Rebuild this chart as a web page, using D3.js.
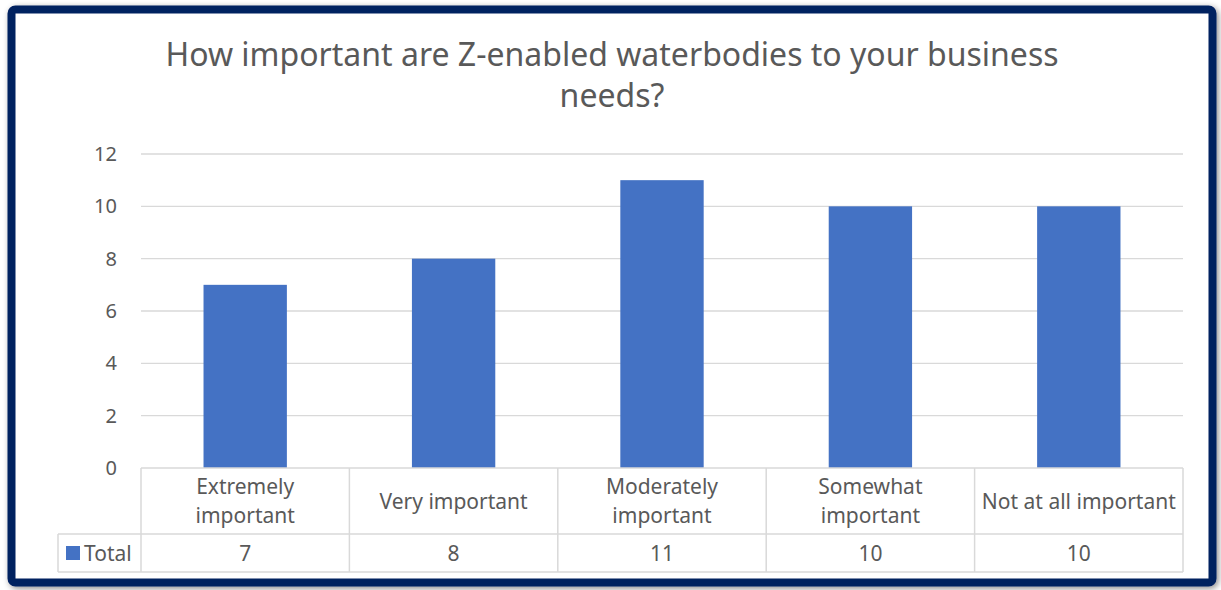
<!DOCTYPE html>
<html>
<head>
<meta charset="utf-8">
<script src="https://d3js.org/d3.v7.min.js"></script>
<style>
  body { margin: 0; background: #fff; }
  text { font-family: "Noto Sans", sans-serif; fill: #595959; }
</style>
</head>
<body>
<svg id="chart" width="1221" height="590"></svg>
<script>
// chart values
var categories = ["Extremely important", "Very important", "Moderately important", "Somewhat important", "Not at all important"];
var labelLines = [["Extremely", "important"], ["Very important"], ["Moderately", "important"], ["Somewhat", "important"], ["Not at all important"]];
var totals = [7, 8, 11, 10, 10];
var yTicks = [0, 2, 4, 6, 8, 10, 12];
var seriesName = "Total";
var titleLines = ["How important are Z-enabled waterbodies to your business", "needs?"];

var svg = d3.select("#chart");

// shadow + frame
var defs = svg.append("defs");
var f = defs.append("filter").attr("id", "shadow").attr("x", "-5%").attr("y", "-5%").attr("width", "110%").attr("height", "110%");
f.append("feDropShadow").attr("dx", 2).attr("dy", 2).attr("stdDeviation", 3).attr("flood-color", "#000").attr("flood-opacity", 0.45);

svg.append("rect")
  .attr("x", 11.5).attr("y", 9.5)
  .attr("width", 1201).attr("height", 573)
  .attr("rx", 4)
  .attr("fill", "#fff")
  .attr("stroke", "#002060")
  .attr("stroke-width", 8)
  .attr("filter", "url(#shadow)");

// title
svg.append("text")
  .attr("x", 612).attr("y", 66)
  .attr("text-anchor", "middle")
  .style("font-size", "32px")
  .selectAll("tspan").data(titleLines).enter().append("tspan")
  .attr("x", 612)
  .attr("dy", function(d, i) { return i == 0 ? 0 : 41; })
  .text(function(d) { return d; });

var left = 141, right = 1183, top0 = 154, bottom = 468;

var x = d3.scaleBand().domain(categories).range([left, right]).paddingInner(0.6).paddingOuter(0.3);
var xc = d3.scaleBand().domain(categories).range([left, right]);
var y = d3.scaleLinear().domain([0, 12]).range([bottom, top0]);

// gridlines
svg.append("g").selectAll("line").data(yTicks.filter(function(d) { return d > 0; })).enter().append("line")
  .attr("x1", left).attr("x2", right)
  .attr("y1", function(d) { return y(d); })
  .attr("y2", function(d) { return y(d); })
  .attr("stroke", "#d9d9d9")
  .attr("stroke-width", 1.3);

// y axis labels
var yAxis = svg.append("g")
  .attr("transform", "translate(" + (left - 14) + ",0)")
  .call(d3.axisLeft(y).tickValues(yTicks).tickSize(0).tickPadding(10));
yAxis.select(".domain").remove();
yAxis.selectAll("text").style("font-size", "20px").attr("fill", "#595959").style("font-family", "'Noto Sans', sans-serif");

// bars
svg.append("g").selectAll("rect").data(totals).enter().append("rect")
  .attr("x", function(d, i) { return x(categories[i]); })
  .attr("width", x.bandwidth())
  .attr("y", function(d) { return y(d); })
  .attr("height", function(d) { return y(0) - y(d); })
  .attr("fill", "#4472c4");

// data table
var rowMid = 534, rowBot = 572, legLeft = 58;
var grid = svg.append("g").attr("stroke", "#d9d9d9").attr("stroke-width", 1.5).attr("fill", "none");
grid.append("line").attr("x1", left).attr("x2", right).attr("y1", bottom).attr("y2", bottom);
grid.append("line").attr("x1", legLeft).attr("x2", right).attr("y1", rowMid).attr("y2", rowMid);
grid.append("line").attr("x1", legLeft).attr("x2", right).attr("y1", rowBot).attr("y2", rowBot);
grid.append("line").attr("x1", legLeft).attr("x2", legLeft).attr("y1", rowMid).attr("y2", rowBot);
grid.selectAll(".v").data(categories.concat([null])).enter().append("line")
  .attr("x1", function(d) { return d ? xc(d) : right; })
  .attr("x2", function(d) { return d ? xc(d) : right; })
  .attr("y1", bottom).attr("y2", rowBot);

// category labels
svg.append("g").selectAll("text").data(labelLines).enter().append("text")
  .attr("text-anchor", "middle")
  .style("font-size", "21px")
  .attr("x", function(d, i) { return xc(categories[i]) + xc.bandwidth() / 2; })
  .attr("y", function(d) { return d.length == 1 ? 509 : 494; })
  .selectAll("tspan").data(function(d, i) { return d.map(function(t) { return [t, i]; }); }).enter().append("tspan")
  .attr("x", function(d) { return xc(categories[d[1]]) + xc.bandwidth() / 2; })
  .attr("dy", function(d, j) { return j == 0 ? 0 : 29; })
  .text(function(d) { return d[0]; });

// value row
svg.append("g").selectAll("text").data(totals).enter().append("text")
  .attr("text-anchor", "middle")
  .style("font-size", "21px")
  .attr("x", function(d, i) { return xc(categories[i]) + xc.bandwidth() / 2; })
  .attr("y", 561)
  .text(function(d) { return d; });

// legend key
svg.append("rect").attr("x", 66).attr("y", 546).attr("width", 14).attr("height", 14).attr("fill", "#4472c4");
svg.append("text").attr("x", 84).attr("y", 561).style("font-size", "21px").text(seriesName);
</script>
</body>
</html>
